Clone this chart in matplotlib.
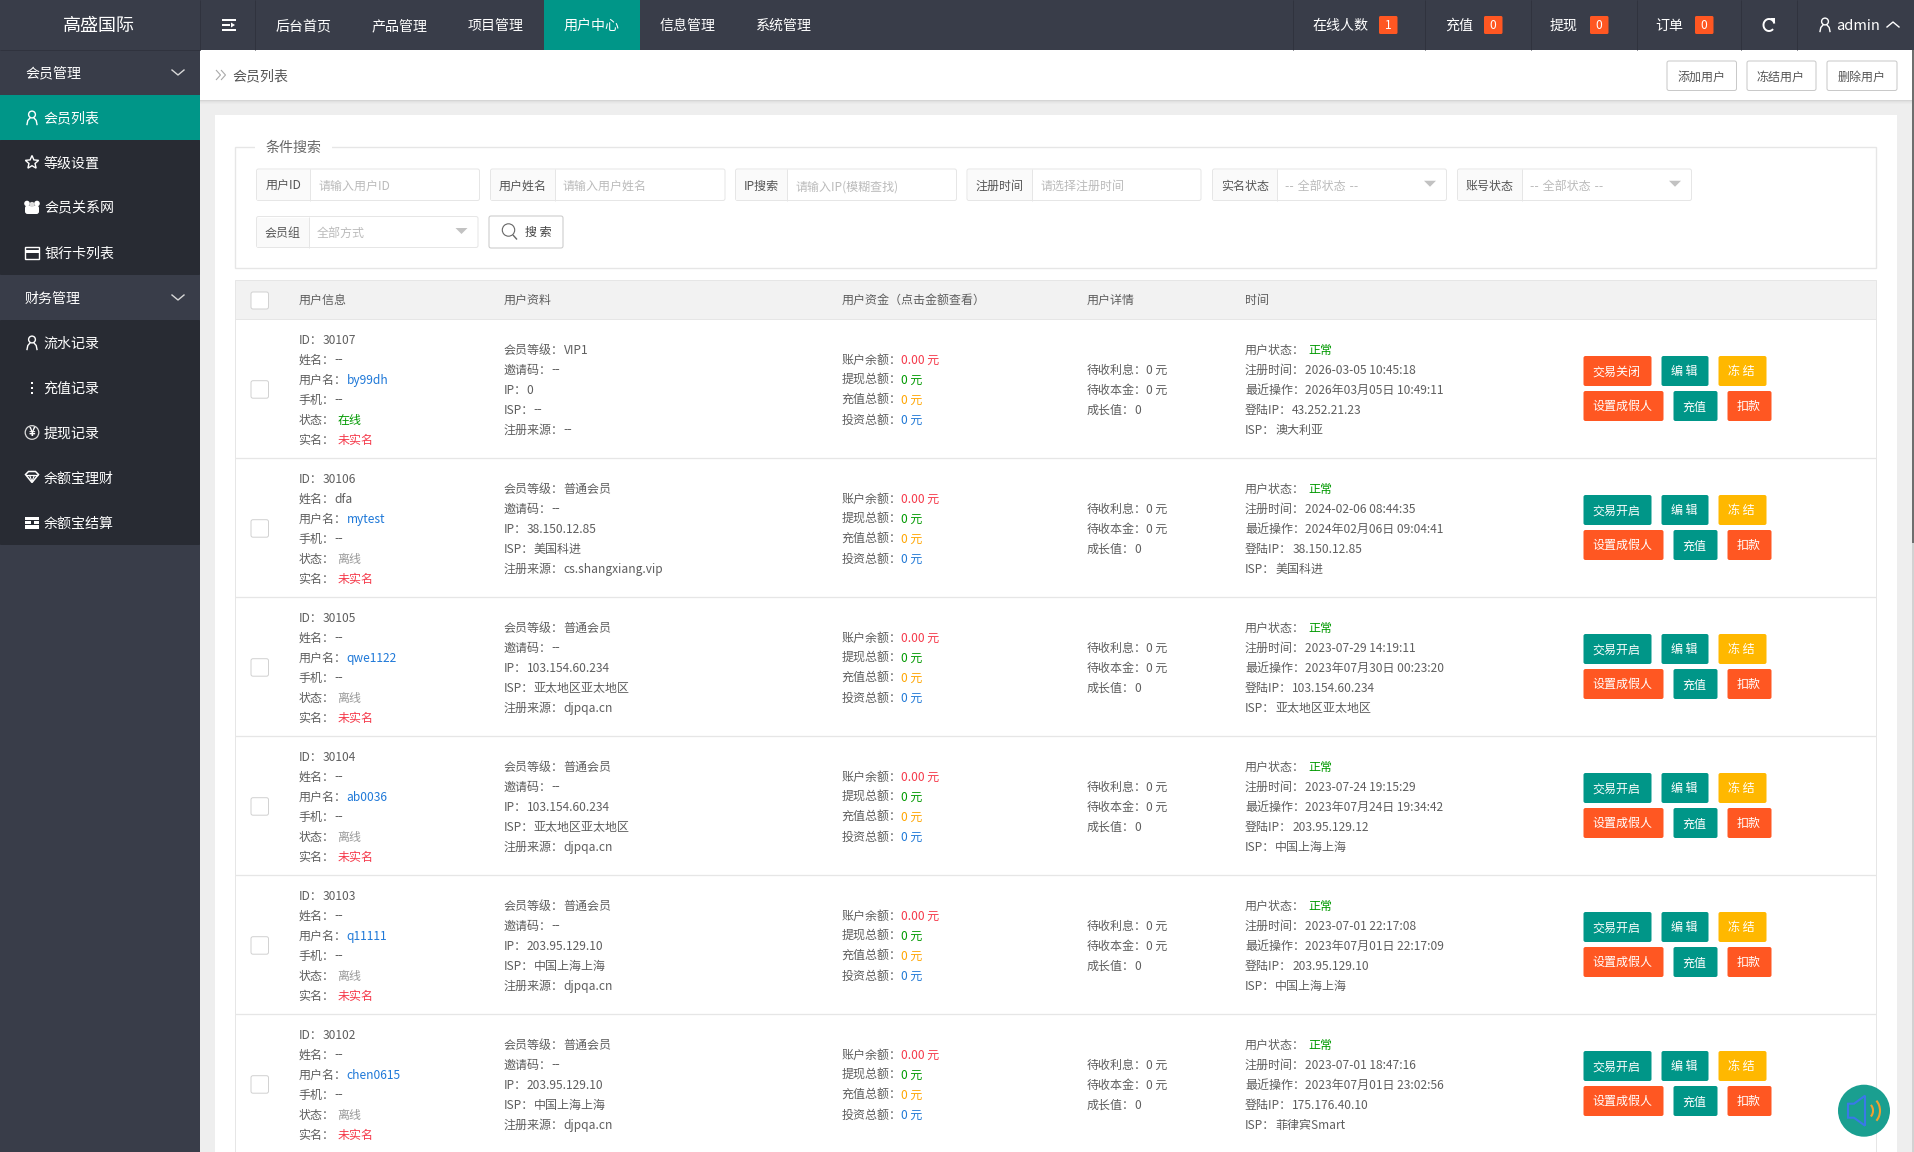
import numpy as np
import matplotlib
matplotlib.use("Agg")
import matplotlib.pyplot as plt
from matplotlib.patches import Rectangle, FancyBboxPatch, Circle, Arc, Polygon

plt.rcParams['font.family'] = ['Noto Sans CJK SC', 'DejaVu Sans']

W, H = 1915, 1152

# colours
DARK = "#393D49"
DARKER = "#282B33"
TEAL = "#009688"
ORANGE = "#FF5722"
YELLOW = "#FFB800"
TXT = "#5E5E5E"
BLUE = "#1E78D8"
GREEN = "#009900"
RED = "#F5394A"
AMBER = "#FFA500"
BORDER = "#E6E6E6"

# sidebar
menu_labels = ["会员管理", "会员列表", "等级设置", "会员关系网", "银行卡列表", "财务管理",
               "流水记录", "充值记录", "提现记录", "余额宝理财", "余额宝结算"]
menu_icons = [None, "user", "star", "users", "card", None, "user", "dots", "yen", "gem", "stack"]

# top bar
nav_labels = ["后台首页", "产品管理", "项目管理", "用户中心", "信息管理", "系统管理"]
stat_labels = ["在线人数", "充值", "提现", "订单"]
stat_counts = ["1", "0", "0", "0"]

# search form
form_labels = ["用户ID", "用户姓名", "IP搜索", "注册时间", "实名状态", "账号状态"]
form_hints = ["请输入用户ID", "请输入用户姓名", "请输入IP(模糊查找)", "请选择注册时间", "-- 全部状态 --", "-- 全部状态 --"]
head_labels = ["用户信息", "用户资料", "用户资金（点击金额查看）", "用户详情", "时间"]
top_buttons = ["添加用户", "冻结用户", "删除用户"]

# table rows
user_ids = ["30107", "30106", "30105", "30104", "30103", "30102"]
real_names = ["--", "dfa", "--", "--", "--", "--"]
usernames = ["by99dh", "mytest", "qwe1122", "ab0036", "q11111", "chen0615"]
online = ["在线", "离线", "离线", "离线", "离线", "离线"]
levels = ["VIP1", "普通会员", "普通会员", "普通会员", "普通会员", "普通会员"]
ips = ["0", "38.150.12.85", "103.154.60.234", "103.154.60.234", "203.95.129.10", "203.95.129.10"]
isps = ["--", "美国科进", "亚太地区亚太地区", "亚太地区亚太地区", "中国上海上海", "中国上海上海"]
sources = ["--", "cs.shangxiang.vip", "djpqa.cn", "djpqa.cn", "djpqa.cn", "djpqa.cn"]
balance = ["0.00 元"] * 6
withdrawn = ["0 元"] * 6
recharged = ["0 元"] * 6
invested = ["0 元"] * 6
reg_times = ["2026-03-05 10:45:18", "2024-02-06 08:44:35", "2023-07-29 14:19:11",
             "2023-07-24 19:15:29", "2023-07-01 22:17:08", "2023-07-01 18:47:16"]
last_ops = ["2026年03月05日 10:49:11", "2024年02月06日 09:04:41", "2023年07月30日 00:23:20",
            "2023年07月24日 19:34:42", "2023年07月01日 22:17:09", "2023年07月01日 23:02:56"]
login_ips = ["43.252.21.23", "38.150.12.85", "103.154.60.234", "203.95.129.12", "203.95.129.10", "175.176.40.10"]
login_isps = ["澳大利亚", "美国科进", "亚太地区亚太地区", "中国上海上海", "中国上海上海", "菲律宾Smart"]
trade_btn = ["交易关闭", "交易开启", "交易开启", "交易开启", "交易开启", "交易开启"]

fig = plt.figure(figsize=(W / 100, H / 100), dpi=100, facecolor="#EEEEEE")
ax = fig.add_axes([0, 0, 1, 1])
ax.set_xlim(0, W)
ax.set_ylim(H, 0)
ax.axis("off")
renderer = fig.canvas.get_renderer()

PX1 = 0.72  # one pixel line, in points


def box(x0, y0, x1, y1, fc, ec="none", lw=0, z=1):
    ax.add_patch(Rectangle((x0, y0), x1 - x0, y1 - y0, fc=fc, ec=ec, lw=lw, zorder=z))


def rbox(x0, y0, x1, y1, fc, ec="none", lw=0, r=2, z=3):
    ax.add_patch(FancyBboxPatch((x0, y0), x1 - x0, y1 - y0, boxstyle=f"round,pad=0,rounding_size={r}",
                                fc=fc, ec=ec, lw=lw, zorder=z))


def line(xs, ys, c, lw=PX1, z=5):
    ax.plot(xs, ys, color=c, lw=lw, zorder=z, solid_capstyle="butt", solid_joinstyle="miter")


def label(x, yc, s, px=12, c=TXT, ha="left", z=6):
    # yc is the middle of the line, text sits on a baseline below it
    # the double dash closes up in the CJK font, so latin comes from DejaVu there
    fam = ['DejaVu Sans', 'Noto Sans CJK SC'] if "--" in s and ":" not in s else ['Noto Sans CJK SC', 'DejaVu Sans']
    return ax.text(x, yc + px * 0.36, s, fontsize=px * 0.72, color=c, ha=ha, va="baseline", zorder=z, family=fam)


def t_w(ch):
    t = ax.text(0, 0, ch, fontsize=12 * 0.72)
    w = t.get_window_extent(renderer).width
    t.remove()
    return w


def pair(x, yc, key, val, c=TXT, gap=0):
    label(x, yc, key)
    # full width colon keeps its advance, the text bbox stops short of it
    adv = sum(12 if ord(ch) > 255 else t_w(ch) for ch in key)
    label(x + adv + gap, yc, val, c=c)


def user_icon(x, y, c="white"):
    ax.add_patch(Circle((x, y - 3), 3.4, fc="none", ec=c, lw=1.0, zorder=7))
    ax.plot([x - 5, x - 4.2, x - 2], [y + 7, y + 3, y + 0.5], color=c, lw=1.0, zorder=7)
    ax.plot([x + 5, x + 4.2, x + 2], [y + 7, y + 3, y + 0.5], color=c, lw=1.0, zorder=7)


def draw_icon(kind, x, y):
    if kind == "user":
        user_icon(x, y)
    elif kind == "star":
        ang = np.deg2rad(np.arange(10) * 36 - 90)
        rad = np.array([7, 3.2] * 5)
        ax.add_patch(Polygon(np.c_[x + rad * np.cos(ang), y + rad * np.sin(ang)], fc="none", ec="white", lw=1.0, zorder=7))
    elif kind == "users":
        for dx in (-5, 5):
            ax.add_patch(Circle((x + dx, y - 4), 2.8, fc="white", zorder=7))
        ax.add_patch(FancyBboxPatch((x - 7, y - 2), 14, 8.5, boxstyle="round,pad=0,rounding_size=2.5", fc="white", ec="none", zorder=7))
        ax.add_patch(Circle((x, y - 3), 2.6, fc="#DDDDDD", zorder=8))
    elif kind == "card":
        box(x - 7, y - 6, x + 7, y + 6, "none", ec="white", lw=1.0, z=7)
        box(x - 7, y - 3, x + 7, y + 0.5, "white", z=7)
    elif kind == "dots":
        for dy in (-5, 0, 5):
            box(x - 1, y + dy - 1, x + 1, y + dy + 1, "white", z=7)
    elif kind == "yen":
        ax.add_patch(Circle((x, y), 6.8, fc="none", ec="#DDDDDD", lw=0.9, zorder=7))
        ax.text(x, y + 3.8, "¥", fontsize=8, color="white", ha="center", va="baseline", zorder=7, fontweight="bold")
    elif kind == "gem":
        ax.add_patch(Polygon([(x - 6.5, y - 3), (x - 3.5, y - 6), (x + 3.5, y - 6), (x + 6.5, y - 3), (x, y + 5)],
                             fc="none", ec="white", lw=1.1, zorder=7))
        line([x - 6, x + 6], [y - 2.5, y - 2.5], "white", 0.9, 7)
        line([x - 2.5, x, x + 2.5], [y - 2.5, y + 4, y - 2.5], "white", 0.8, 7)
    elif kind == "stack":
        box(x - 7, y - 6, x + 7, y - 3, "white", z=7)
        box(x - 7, y - 1.5, x - 1, y + 1, "white", z=7)
        box(x + 2, y - 1.5, x + 7, y + 1, "white", z=7)
        box(x - 7, y + 2.5, x + 7, y + 6, "white", z=7)


def chevron(x, y, c, up=False, w=6, h=5, lw=1.0):
    s = -1 if up else 1
    ax.plot([x - w, x, x + w], [y - s * h / 2, y + s * h / 2, y - s * h / 2], color=c, lw=lw, zorder=7)


def tri(x, y, c="#C2C2C2"):
    ax.add_patch(Polygon([(x - 6, y - 3), (x + 6, y - 3), (x, y + 3)], fc=c, ec="none", zorder=7))


def field(x0, lab_end, x1, y0, y1, lab, hint, select=False):
    rbox(x0, y0, x1, y1, "white", ec=BORDER, lw=PX1, r=2, z=3)
    box(x0 + 1, y0 + 1, lab_end, y1 - 1, "#FAFAFA", z=4)
    line([lab_end, lab_end], [y0, y1], BORDER, PX1, 5)
    label((x0 + lab_end) / 2, (y0 + y1) / 2 + 1, lab, c="#555555", ha="center")
    label(lab_end + 8, (y0 + y1) / 2 + 1, hint, c="#BBBBBB")
    if select:
        tri(x1 - 16.5, (y0 + y1) / 2 - 1)


# page frame
box(0, 0, 200, H, DARK)
box(0, 0, W, 50, DARK, z=2)
for i, a in enumerate([0.10, 0.06, 0.03, 0.015]):
    box(200, 100 + i, 1912, 101 + i, (0, 0, 0, a), z=2)
box(200, 50, 1912, 100, "white", z=2)
box(1912, 50, W, 543, "#6E6E6E", z=2)
box(1912, 543, W, H, "#D2D2D2", z=2)

# top bar
label(99, 25, "高盛国际", px=18, c="white", ha="center")
for x in [200, 255, 1293, 1425, 1531, 1637, 1741, 1797]:
    line([x, x], [0, 50], "#30333E", PX1, 3)
line([0, 200], [50, 50], "#30333E", PX1, 6)
for y, x1 in zip((19.5, 25, 30), (236, 230, 236)):
    box(222, y - 1, x1, y + 1, "white", z=7)
ax.add_patch(Polygon([(231, 22.5), (235, 25), (231, 27.5)], fc="white", zorder=7))
box(544, 0, 640, 50, TEAL, z=3)
for i, s in enumerate(nav_labels):
    label(304 + 96 * i, 25, s, px=14, c="white", ha="center")

stat_x = [1340, 1459, 1564, 1669]
badge_x = [1379, 1484, 1590, 1695]
for s, n, xc, bx in zip(stat_labels, stat_counts, stat_x, badge_x):
    label(xc, 25, s, px=14, c="white", ha="center")
    rbox(bx, 16, bx + 18.5, 34, ORANGE, r=1.5)
    label(bx + 9.2, 25, n, c="white", ha="center")
ax.add_patch(Arc((1769, 25), 11, 12, theta1=45, theta2=345, ec="white", lw=1.4, zorder=7))
ax.add_patch(Polygon([(1770, 18), (1775, 18), (1775, 23)], fc="white", zorder=7))
user_icon(1825, 24.5)
label(1836.5, 25, "admin", px=14.6, c="white")
chevron(1893, 24.5, "white", up=True)

# sidebar menu
box(0, 95, 200, 140, TEAL, z=3)
rbox(0, 140, 200, 275, DARKER, r=1, z=2)
rbox(0, 320, 200, 545, DARKER, r=1, z=2)
for i, (s, kind) in enumerate(zip(menu_labels, menu_icons)):
    yc = 72.5 + 45 * i
    if kind is None:
        label(25, yc, s, px=14, c="white")
        chevron(178, yc, "#D8D8D8")
    else:
        draw_icon(kind, 32, yc)
        label(43.5 if i not in (3, 4) else 44.5, yc, s, px=14, c="white")

# breadcrumb and action buttons
for dx in (0, 5):
    line([216 + dx, 220.5 + dx, 216 + dx], [70, 75, 80], "#AAAAAA", 0.8, 6)
label(232, 75, "会员列表", px=14, c="#555555")
for s, x0, x1 in zip(top_buttons, (1667, 1747, 1827), (1736.5, 1816, 1897)):
    rbox(x0, 61, x1, 90.5, "white", ec="#C9C9C9", lw=PX1, r=2)
    label((x0 + x1) / 2 - 0.5, 76, s, c="#555555", ha="center")

# card
box(215, 115, 1897, H, "white", z=1)

# search form
box(235.5, 147, 1876, 268, "none", ec=BORDER, lw=1.0, z=2)
box(255, 143, 332, 151, "white", z=3)
label(266, 147, "条件搜索", px=14, c="#666666")
f_x0 = [256.5, 490.5, 735.5, 967, 1212.5, 1457.5]
f_le = [310.5, 555, 787.5, 1032.5, 1277, 1522]
f_x1 = [479.5, 725, 956.5, 1201, 1446.5, 1691.5]
for i in range(6):
    field(f_x0[i], f_le[i], f_x1[i], 169, 200.5, form_labels[i], form_hints[i], select=i >= 4)
field(256.5, 309, 478, 216.5, 247.5, "会员组", "全部方式", select=True)
rbox(489, 216, 563, 248, "white", ec="#C9C9C9", lw=PX1, r=2)
ax.add_patch(Circle((508.5, 230), 6.2, fc="none", ec="#666666", lw=0.8, zorder=7))
line([513, 517], [235, 239.5], "#666666", 1.0, 7)
label(538, 232, "搜 索", c="#444444", ha="center")

# table head
box(235.5, 279.5, 1876, 319, "#F2F2F2", ec=BORDER, lw=PX1, z=2)
col_x = [298.5, 503.5, 841.5, 1086.5, 1245]
for s, x in zip(head_labels, col_x):
    label(x, 299.5, s)
rbox(251, 292, 268.5, 309, "white", ec="#D2D2D2", lw=PX1, r=2)

# table rows
line([1876, 1876], [319, H], BORDER, PX1, 2)
line([235.5, 235.5], [319, H], BORDER, PX1, 2)
for r in range(6):
    top = 320 + 139 * r
    mid = top + 69.2
    line([235.5, 1876], [top + 138.3, top + 138.3], BORDER, 0.9, 2)
    rbox(251, mid - 8.5, 268.5, mid + 9, "white", ec="#D2D2D2", lw=PX1, r=2)

    y = mid - 50
    pair(col_x[0], y, "ID：", user_ids[r])
    pair(col_x[0], y + 20, "姓名：", real_names[r])
    pair(col_x[0], y + 40, "用户名：", usernames[r], c=BLUE)
    pair(col_x[0], y + 60, "手机：", "--")
    pair(col_x[0], y + 80, "状态：", online[r], c=GREEN if online[r] == "在线" else "#999999", gap=3)
    pair(col_x[0], y + 100, "实名：", "未实名", c=RED, gap=3)

    y = mid - 40
    pair(col_x[1], y, "会员等级：", levels[r])
    pair(col_x[1], y + 20, "邀请码：", "--")
    pair(col_x[1], y + 40, "IP：", ips[r])
    pair(col_x[1], y + 60, "ISP：", isps[r])
    pair(col_x[1], y + 80, "注册来源：", sources[r])

    y = mid - 30
    pair(col_x[2], y, "账户余额：", balance[r], c=RED)
    pair(col_x[2], y + 20, "提现总额：", withdrawn[r], c=GREEN)
    pair(col_x[2], y + 40, "充值总额：", recharged[r], c=AMBER)
    pair(col_x[2], y + 60, "投资总额：", invested[r], c=BLUE)

    y = mid - 20
    pair(col_x[3], y, "待收利息：", "0 元")
    pair(col_x[3], y + 20, "待收本金：", "0 元")
    pair(col_x[3], y + 40, "成长值：", "0")

    y = mid - 40
    pair(col_x[4], y, "用户状态：", "正常", c=GREEN, gap=3)
    pair(col_x[4], y + 20, "注册时间：", reg_times[r])
    pair(col_x[4], y + 40, "最近操作：", last_ops[r])
    pair(col_x[4], y + 60, "登陆IP：", login_ips[r])
    pair(col_x[4], y + 80, "ISP：", login_isps[r])

    # action buttons
    row1 = [(1583.5, 1651.5, trade_btn[r], ORANGE if trade_btn[r] == "交易关闭" else TEAL),
            (1661.5, 1708.5, "编 辑", TEAL), (1718.5, 1766.5, "冻 结", YELLOW)]
    row2 = [(1583.5, 1663.5, "设置成假人", ORANGE), (1673.5, 1717.5, "充值", TEAL), (1727.5, 1771.5, "扣款", ORANGE)]
    for x0, x1, s, col in row1:
        rbox(x0, top + 36, x1, top + 66, col)
        label((x0 + x1) / 2 - 1, top + 51, s, c="white", ha="center")
    for x0, x1, s, col in row2:
        rbox(x0, top + 71, x1, top + 101, col)
        label((x0 + x1) / 2 - 1, top + 86, s, c="white", ha="center")

# floating sound button
sx, sy = 1864, 1110.7
ax.add_patch(Circle((sx, sy), 26, fc="#1A9F90", zorder=9))
spk = [(sx - 16, sy - 7), (sx - 10, sy - 7), (sx + 1, sy - 15), (sx + 1, sy + 15), (sx - 10, sy + 7), (sx - 16, sy + 7)]
ax.add_patch(Polygon(spk, closed=True, fc="none", ec="#3A78E8", lw=1.5, zorder=10))
ax.add_patch(Arc((sx + 2, sy), 14, 16, theta1=-50, theta2=50, ec="#F0A030", lw=1.5, zorder=10))
ax.add_patch(Arc((sx + 4, sy), 24, 28, theta1=-50, theta2=50, ec="#F0A030", lw=1.5, zorder=10))

fig.savefig("out.png", dpi=100, facecolor=fig.get_facecolor())
